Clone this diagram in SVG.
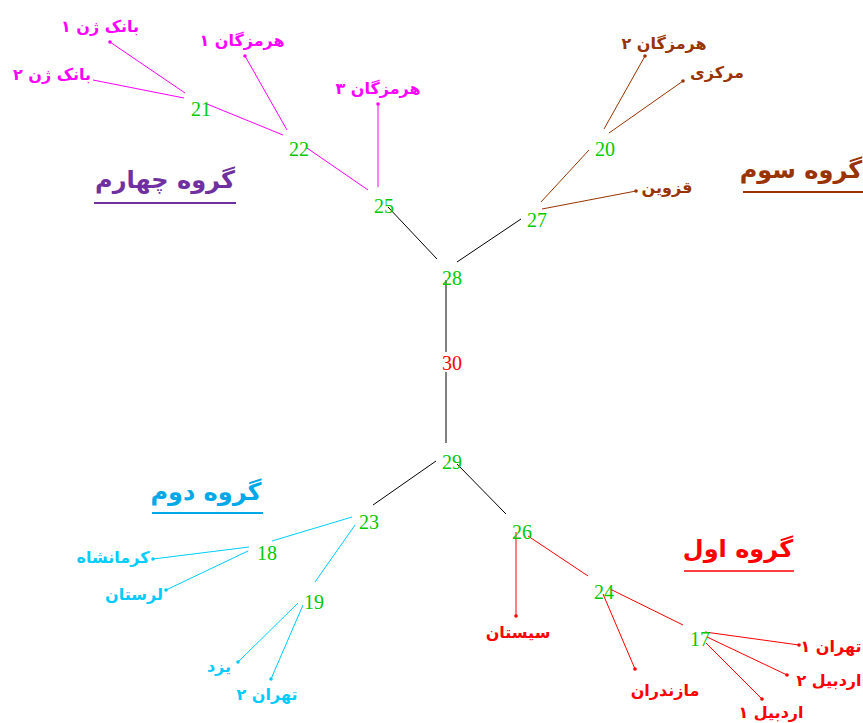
<svg xmlns="http://www.w3.org/2000/svg" width="863" height="723" viewBox="0 0 863 723">
<style>
.n{font-family:"Liberation Serif","Times New Roman",serif;font-size:20px;fill:#00C800;text-anchor:middle}
.l{font-family:"DejaVu Sans","Noto Sans",sans-serif;font-size:16px;font-weight:bold;text-anchor:middle;direction:rtl}
.t{font-family:"DejaVu Sans","Noto Sans",sans-serif;font-size:24px;font-weight:bold;text-anchor:middle;direction:rtl}
.k{stroke:#000;stroke-width:1;fill:none}
.m{stroke:#FF00FF;stroke-width:1;fill:none}
.b{stroke:#993300;stroke-width:1;fill:none}
.c{stroke:#00CCFF;stroke-width:1;fill:none}
.r{stroke:#FF0000;stroke-width:1;fill:none}
</style>
<rect width="863" height="723" fill="#fff"/>
<g id="connectors">
<line class="k" x1="388" y1="207" x2="437" y2="259"/>
<line class="k" x1="457" y1="262" x2="521" y2="219"/>
<line class="k" x1="446" y1="280" x2="446" y2="352"/>
<line class="k" x1="446" y1="372" x2="446" y2="443"/>
<line class="k" x1="436" y1="461" x2="373" y2="505"/>
<line class="k" x1="457" y1="464" x2="506" y2="514"/>
<line class="m" x1="185" y1="93" x2="110" y2="42"/>
<line class="m" x1="184" y1="98" x2="93" y2="80"/>
<line class="m" x1="207" y1="104" x2="283" y2="135"/>
<line class="m" x1="287" y1="130" x2="245" y2="56"/>
<line class="m" x1="307" y1="148" x2="368" y2="190"/>
<line class="m" x1="378" y1="187" x2="378" y2="104"/>
<line class="b" x1="541" y1="202" x2="589" y2="150"/>
<line class="b" x1="542" y1="209" x2="636" y2="191"/>
<line class="b" x1="604" y1="129" x2="645" y2="56"/>
<line class="b" x1="609" y1="133" x2="683" y2="81"/>
<line class="c" x1="352" y1="517" x2="272" y2="541"/>
<line class="c" x1="355" y1="525" x2="315" y2="582"/>
<line class="c" x1="249" y1="547" x2="153" y2="559"/>
<line class="c" x1="248" y1="551" x2="166" y2="590"/>
<line class="c" x1="298" y1="603" x2="238" y2="662"/>
<line class="c" x1="303" y1="605" x2="271" y2="679"/>
<line class="r" x1="516" y1="532" x2="516" y2="616"/>
<line class="r" x1="528" y1="536" x2="588" y2="576"/>
<line class="r" x1="603" y1="594" x2="635" y2="669"/>
<line class="r" x1="610" y1="589" x2="683" y2="625"/>
<line class="r" x1="705" y1="632" x2="799" y2="645"/>
<line class="r" x1="707" y1="637" x2="787" y2="675"/>
<line class="r" x1="706" y1="643" x2="762" y2="699"/>
<g fill="#FF00FF"><circle cx="110" cy="42" r="1.8"/><circle cx="245" cy="56" r="1.8"/><circle cx="378" cy="104" r="1.8"/></g>
<g fill="#993300"><circle cx="636" cy="191" r="1.8"/><circle cx="645" cy="56" r="1.8"/><circle cx="683" cy="81" r="1.8"/></g>
<g fill="#00CCFF"><circle cx="153" cy="559" r="1.8"/><circle cx="166" cy="590" r="1.8"/><circle cx="238" cy="662" r="1.8"/><circle cx="271" cy="679" r="1.8"/></g>
<g fill="#FF0000"><circle cx="516" cy="616" r="1.8"/><circle cx="635" cy="669" r="1.8"/><circle cx="799" cy="645" r="1.8"/><circle cx="787" cy="675" r="1.8"/><circle cx="762" cy="699" r="1.8"/></g>
</g>
<g id="n17"><text class="n" x="700" y="646">17</text></g>
<g id="n18"><text class="n" x="267" y="560">18</text></g>
<g id="n19"><text class="n" x="314" y="609">19</text></g>
<g id="n20"><text class="n" x="605" y="156">20</text></g>
<g id="n21"><text class="n" x="201" y="116">21</text></g>
<g id="n22"><text class="n" x="299" y="156">22</text></g>
<g id="n23"><text class="n" x="369" y="529">23</text></g>
<g id="n24"><text class="n" x="604" y="599">24</text></g>
<g id="n25"><text class="n" x="384" y="213">25</text></g>
<g id="n26"><text class="n" x="522" y="539">26</text></g>
<g id="n27"><text class="n" x="537" y="227">27</text></g>
<g id="n28"><text class="n" x="452" y="285">28</text></g>
<g id="n29"><text class="n" x="452" y="469">29</text></g>
<g id="n30"><text class="n" x="452" y="370" style="fill:#FF0000">30</text></g>
<g id="leaf-bank1"><text class="l" x="100" y="32" fill="#FF00FF">بانک ژن ۱</text></g>
<g id="leaf-bank2"><text class="l" x="52" y="80" fill="#FF00FF">بانک ژن ۲</text></g>
<g id="leaf-hormozgan1"><text class="l" x="242" y="46" fill="#FF00FF">هرمزگان ۱</text></g>
<g id="leaf-hormozgan3"><text class="l" x="378" y="94" fill="#FF00FF">هرمزگان ۳</text></g>
<g id="leaf-hormozgan2"><text class="l" x="664" y="49" fill="#993300">هرمزگان ۲</text></g>
<g id="leaf-markazi"><text class="l" x="717" y="78" fill="#993300">مرکزی</text></g>
<g id="leaf-qazvin"><text class="l" x="667" y="193" fill="#993300">قزوین</text></g>
<g id="leaf-kermanshah"><text class="l" x="113" y="563" fill="#00CCFF">کرمانشاه</text></g>
<g id="leaf-lorestan"><text class="l" x="134" y="600" fill="#00CCFF">لرستان</text></g>
<g id="leaf-yazd"><text class="l" x="219" y="672" fill="#00CCFF">یزد</text></g>
<g id="leaf-tehran2"><text class="l" x="267" y="700" fill="#00CCFF">تهران ۲</text></g>
<g id="leaf-sistan"><text class="l" x="518" y="638" fill="#FF0000">سیستان</text></g>
<g id="leaf-mazandaran"><text class="l" x="665" y="696" fill="#FF0000">مازندران</text></g>
<g id="leaf-tehran1"><text class="l" x="831" y="652" fill="#FF0000">تهران ۱</text></g>
<g id="leaf-ardabil2"><text class="l" x="829" y="686" fill="#FF0000">اردبیل ۲</text></g>
<g id="leaf-ardabil1"><text class="l" x="771" y="718" fill="#FF0000">اردبیل ۱</text></g>
<g id="title-group4"><text class="t" x="165" y="188" fill="#7030A0">گروه چهارم</text><line x1="94" y1="203" x2="236" y2="203" stroke="#7030A0" stroke-width="2"/></g>
<g id="title-group3"><text class="t" x="801" y="178" fill="#993300">گروه سوم</text><line x1="743" y1="192" x2="863" y2="192" stroke="#993300" stroke-width="2"/></g>
<g id="title-group2"><text class="t" x="206" y="500" fill="#00A8E8">گروه دوم</text><line x1="152" y1="513" x2="263" y2="513" stroke="#00A8E8" stroke-width="2"/></g>
<g id="title-group1"><text class="t" x="738" y="557" fill="#FF0000">گروه اول</text><line x1="684" y1="571" x2="794" y2="571" stroke="#FF0000" stroke-width="1.5"/></g>
</svg>
